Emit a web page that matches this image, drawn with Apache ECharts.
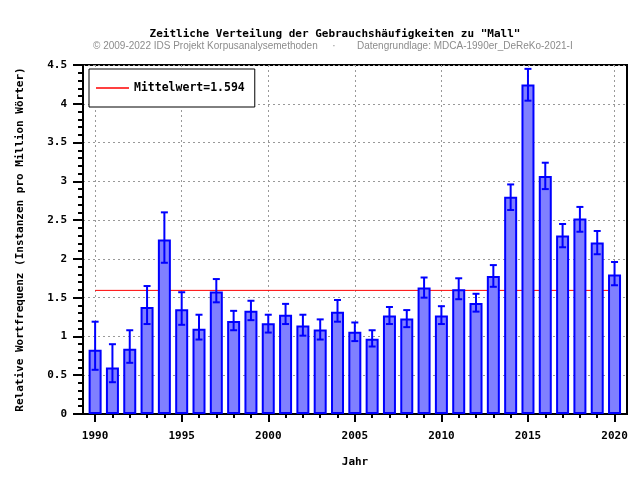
<!DOCTYPE html>
<html><head><meta charset="utf-8">
<script src="https://cdn.jsdelivr.net/npm/echarts@6/dist/echarts.min.js"></script>
<style>html,body{margin:0;padding:0;background:#fff}#c{width:640px;height:480px}</style>
</head><body><div id="c"></div>
<script>
const years = [1990,1991,1992,1993,1994,1995,1996,1997,1998,1999,2000,2001,2002,2003,2004,2005,2006,2007,2008,2009,2010,2011,2012,2013,2014,2015,2016,2017,2018,2019,2020];
const values = [0.83,0.60,0.84,1.38,2.25,1.35,1.10,1.58,1.20,1.33,1.17,1.28,1.14,1.09,1.32,1.06,0.97,1.27,1.23,1.63,1.27,1.61,1.43,1.78,2.80,4.25,3.07,2.30,2.52,2.21,1.80];
const errLow = [0.57,0.41,0.66,1.16,1.95,1.15,0.96,1.44,1.08,1.21,1.05,1.16,1.01,0.96,1.19,0.94,0.87,1.16,1.12,1.50,1.16,1.48,1.32,1.64,2.63,4.04,2.90,2.15,2.35,2.06,1.66];
const errHigh = [1.19,0.90,1.08,1.65,2.60,1.57,1.28,1.74,1.33,1.46,1.28,1.42,1.28,1.22,1.47,1.18,1.08,1.38,1.34,1.76,1.39,1.75,1.55,1.92,2.96,4.45,3.24,2.45,2.67,2.36,1.96];
const meanValue = 1.594;
const labelYears = [1990,1995,2000,2005,2010,2015,2020];
const titleText = 'Zeitliche Verteilung der Gebrauchshäufigkeiten zu "Mall"';
const creditLeft = '© 2009-2022 IDS Projekt Korpusanalysemethoden';
const creditRight = 'Datengrundlage: MDCA-1990er_DeReKo-2021-I';
const legendName = 'Mittelwert=' + meanValue.toFixed(3);

const MONO = '"DejaVu Sans Mono", "Liberation Mono", monospace';
const chart = echarts.init(document.getElementById('c'));
const xMin = 1989.3, xMax = 2020.72;
const dashed = {color:'#999', width:1, type:[2,3]};

chart.setOption({
  animation:false,
  backgroundColor:'#fff',
  graphic:[
    {type:'text', x:335, y:34, style:{text:titleText, font:'bold 11px '+MONO, fill:'#000', textAlign:'center', textVerticalAlign:'middle'}},
    {type:'text', x:93, y:46, style:{text:creditLeft, font:'10px "Liberation Sans", Arial, sans-serif', fill:'#8c8c8c', textAlign:'left', textVerticalAlign:'middle'}},
    {type:'text', x:334, y:46, style:{text:'·', font:'10px "Liberation Sans", Arial, sans-serif', fill:'#8c8c8c', textAlign:'center', textVerticalAlign:'middle'}},
    {type:'text', x:357, y:46, style:{text:creditRight, font:'10px "Liberation Sans", Arial, sans-serif', fill:'#8c8c8c', textAlign:'left', textVerticalAlign:'middle'}}
  ],
  legend:{
    left:89, top:69, orient:'horizontal',
    data:[{name:legendName, icon:'rect'}],
    itemWidth:33, itemHeight:1.5,
    borderColor:'#000', borderWidth:1, backgroundColor:'#fff',
    padding:[13,10,13,7],
    textStyle:{fontFamily:MONO, fontWeight:'bold', fontSize:11.5, color:'#000'}
  },
  grid:{left:83, right:13, top:65, bottom:66, show:true, borderColor:'#000', borderWidth:2, backgroundColor:'transparent', containLabel:false},
  xAxis:[
    {type:'value', min:xMin, max:xMax, position:'bottom',
     name:'Jahr', nameLocation:'middle', nameGap:43,
     nameTextStyle:{fontFamily:MONO, fontWeight:'bold', fontSize:11, color:'#000'},
     axisLine:{show:true, onZero:false, lineStyle:{color:'#000', width:2}},
     axisTick:{show:true, customValues:years, length:4, lineStyle:{color:'#000', width:2}},
     axisLabel:{show:true, customValues:labelYears, formatter:v=>String(v), margin:17, fontFamily:MONO, fontWeight:'bold', fontSize:11, color:'#000'},
     splitLine:{show:false}},
    {type:'value', min:xMin, max:xMax, position:'bottom',
     axisLine:{show:false},
     axisTick:{show:true, customValues:labelYears, length:8, lineStyle:{color:'#000', width:2}},
     axisLabel:{show:false},
     splitLine:{show:true, lineStyle:dashed}}
  ],
  yAxis:{
    type:'value', min:0, max:4.5, interval:0.5,
    name:'Relative Wortfrequenz (Instanzen pro Million Wörter)', nameLocation:'middle', nameGap:57, nameRotate:90,
    nameTextStyle:{fontFamily:MONO, fontWeight:'bold', fontSize:11, color:'#000'},
    axisLine:{show:true, lineStyle:{color:'#000', width:2}},
    axisTick:{show:true, length:10, lineStyle:{color:'#000', width:2}},
    minorTick:{show:true, splitNumber:5, length:5, lineStyle:{color:'#000', width:2}},
    axisLabel:{margin:16, formatter:v=>String(v), fontFamily:MONO, fontWeight:'bold', fontSize:11, color:'#000'},
    splitLine:{show:true, lineStyle:dashed},
    minorSplitLine:{show:false}
  },
  series:[
    {name:legendName, type:'line', xAxisIndex:0, data:[[years[0], meanValue],[years[years.length-1], meanValue]],
     symbol:'none', color:'#ff0000', lineStyle:{color:'#ff0000', width:1}, z:1, silent:true},
    {name:'Werte', type:'bar', xAxisIndex:0, barWidth:13,
     data:years.map((y,i)=>[y, values[i]]),
     itemStyle:{color:'#8080ff', borderColor:'#0000ff', borderWidth:2}, z:2},
    {name:'Fehler', type:'custom', xAxisIndex:0, z:3,
     data:years.map((y,i)=>[y, errLow[i], errHigh[i]]),
     encode:{x:0, y:[1,2]},
     renderItem:function(params, api){
       const x = api.value(0);
       const lo = api.coord([x, api.value(1)]);
       const hi = api.coord([x, api.value(2)]);
       const hw = 3.5;
       const st = {stroke:'#0000ff', lineWidth:2, fill:null};
       return {type:'group', children:[
         {type:'line', shape:{x1:lo[0], y1:lo[1], x2:hi[0], y2:hi[1]}, style:st},
         {type:'line', shape:{x1:lo[0]-hw, y1:lo[1], x2:lo[0]+hw, y2:lo[1]}, style:st},
         {type:'line', shape:{x1:hi[0]-hw, y1:hi[1], x2:hi[0]+hw, y2:hi[1]}, style:st}
       ]};
     }}
  ]
});
</script></body></html>
